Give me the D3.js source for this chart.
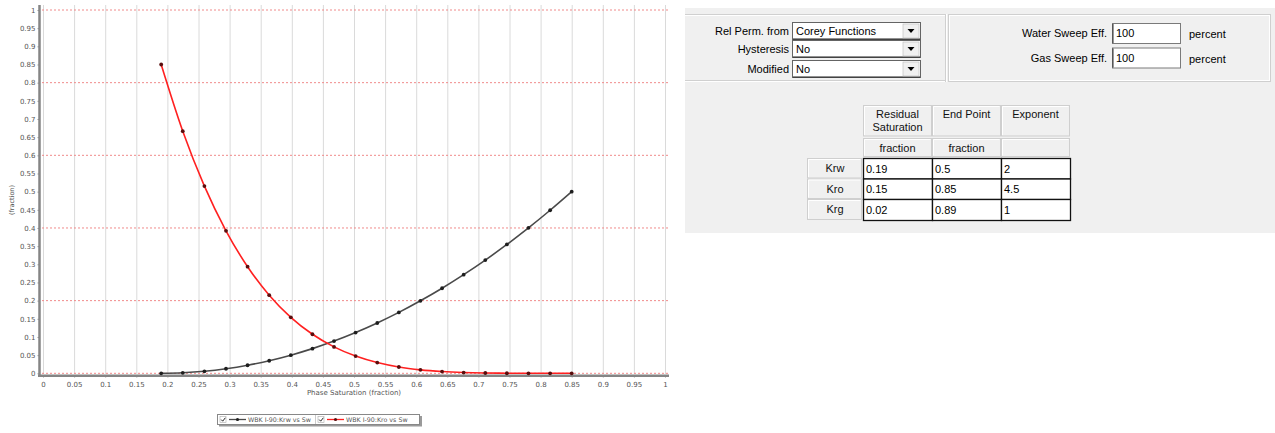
<!DOCTYPE html>
<html>
<head>
<meta charset="utf-8">
<script src="https://cdn.jsdelivr.net/npm/d3@7"></script>
<style>
  html, body { margin: 0; padding: 0; background: #fff; }
  svg { display: block; }
</style>
</head>
<body>
<svg id="chart" width="1275" height="433"></svg>
<script>
// ---- relative permeability curves (Corey) ----
const sw  = [0.19, 0.2247, 0.2595, 0.2942, 0.3289, 0.3637, 0.3984, 0.4332, 0.4679, 0.5026,
             0.5374, 0.5721, 0.6068, 0.6416, 0.6763, 0.7111, 0.7458, 0.7805, 0.8153, 0.85];
const krw = [0, 0.0014, 0.0055, 0.0125, 0.0222, 0.0346, 0.0499, 0.0679, 0.0886, 0.1122,
             0.1385, 0.1676, 0.1995, 0.2341, 0.2715, 0.3116, 0.3546, 0.4003, 0.4488, 0.5];
const kro = [0.85, 0.6664, 0.5153, 0.3923, 0.2934, 0.2151, 0.1541, 0.1075, 0.0727, 0.0473,
             0.0295, 0.0173, 0.0095, 0.0048, 0.0021, 0.0008, 0.0002, 0.0000, 0.0000, 0];
const seriesNames = ["WBK I-90:Krw vs Sw", "WBK I-90:Kro vs Sw"];
const xTicks = d3.range(0, 21).map(i => i / 20);
const yTicks = d3.range(0, 21).map(i => i / 20);
const yMajor = [0, 0.2, 0.4, 0.6, 0.8, 1];
const xTitle = "Phase Saturation (fraction)";
const yTitle = "(fraction)";

// ---- settings panel ----
const ddLabels = ["Rel Perm. from", "Hysteresis", "Modified"];
const ddValues = ["Corey Functions", "No", "No"];
const sweepLabels = ["Water Sweep Eff.", "Gas Sweep Eff."];
const sweepValues = ["100", "100"];
const sweepUnit = "percent";
const colHeads = [["Residual", "Saturation"], ["End Point"], ["Exponent"]];
const colUnits = ["fraction", "fraction", ""];
const rowNames = ["Krw", "Kro", "Krg"];
const residual = ["0.19", "0.15", "0.02"];
const endPoint = ["0.5", "0.85", "0.89"];
const exponent = ["2", "4.5", "1"];

const svg = d3.select("#chart");
const chartFont = "DejaVu Sans, Verdana, sans-serif";
const uiFont = "Liberation Sans, Arial, sans-serif";

// ================= chart =================
const x = d3.scaleLinear().domain([0, 1]).range([43, 665]);
const y = d3.scaleLinear().domain([0, 1]).range([373.3, 10]);
const fmt = d => String(+d.toFixed(2));

const g = svg.append("g");

// vertical grid
g.append("g").selectAll("line").data(xTicks).join("line")
  .attr("x1", d => x(d) + 0.5).attr("x2", d => x(d) + 0.5)
  .attr("y1", 5).attr("y2", 374)
  .attr("stroke", "#dadada").attr("stroke-width", 1);

// horizontal major grid (red dotted)
g.append("g").selectAll("line").data(yMajor).join("line")
  .attr("x1", 42).attr("x2", 669)
  .attr("y1", d => y(d)).attr("y2", d => y(d))
  .attr("stroke", "#f08a8a").attr("stroke-width", 1)
  .attr("stroke-dasharray", "2,2");

// axes
const yAxis = d3.axisLeft(y).tickValues(yTicks).tickSize(2).tickPadding(2).tickFormat(fmt);
const yG = g.append("g").attr("transform", "translate(39.5,0)").call(yAxis);
const xAxis = d3.axisBottom(x).tickValues(xTicks).tickSize(2).tickPadding(5).tickFormat(fmt);
const xG = g.append("g").attr("transform", "translate(0,375.5)").call(xAxis);
[yG, xG].forEach(a => {
  a.select(".domain").remove();
  a.selectAll(".tick line").attr("stroke", "#999");
  a.selectAll(".tick text").attr("fill", "#555").attr("font-size", 7).attr("font-family", chartFont);
});
g.append("line").attr("x1", 39.5).attr("x2", 39.5).attr("y1", 5).attr("y2", 377)
  .attr("stroke", "#858585").attr("stroke-width", 2.5);
g.append("line").attr("x1", 38).attr("x2", 669).attr("y1", 375.8).attr("y2", 375.8)
  .attr("stroke", "#858585").attr("stroke-width", 2.5);

// titles
g.append("text").attr("x", 354).attr("y", 395).attr("text-anchor", "middle")
  .attr("font-size", 7).attr("font-family", chartFont).attr("fill", "#555").text(xTitle);
g.append("text").attr("transform", "translate(14,200) rotate(-90)").attr("text-anchor", "middle")
  .attr("font-size", 6.5).attr("font-family", chartFont).attr("fill", "#555").text(yTitle);

// series
const series = [
  { name: seriesNames[0], vals: krw, line: "#4a4a4a", dot: "#1e1e1e" },
  { name: seriesNames[1], vals: kro, line: "#ff2020", dot: "#5a0d0d" }
];
const lineGen = d3.line().x(d => x(d[0])).y(d => y(d[1])).curve(d3.curveMonotoneX);
series.forEach(s => {
  const pts = sw.map((v, i) => [v, s.vals[i]]);
  g.append("path").datum(pts).attr("d", lineGen)
    .attr("fill", "none").attr("stroke", s.line).attr("stroke-width", 1.6);
  g.append("g").selectAll("circle").data(pts).join("circle")
    .attr("cx", d => x(d[0])).attr("cy", d => y(d[1])).attr("r", 1.9)
    .attr("fill", s.dot);
});

// legend
const lg = svg.append("g").attr("transform", "translate(217,414)");
lg.append("rect").attr("x", 2).attr("y", 2).attr("width", 203).attr("height", 10.5).attr("fill", "#9a9a9a");
lg.append("rect").attr("x", 0.5).attr("y", 0.5).attr("width", 202).attr("height", 10)
  .attr("fill", "#fff").attr("stroke", "#888");
const itemX = [3, 101];
series.forEach((s, i) => {
  const ix = itemX[i];
  lg.append("rect").attr("x", ix).attr("y", 2.5).attr("width", 6).attr("height", 6)
    .attr("fill", "#fff").attr("stroke", "#aaa").attr("stroke-width", 0.6);
  lg.append("path").attr("d", `M${ix + 1.2},5.6 l1.5,1.6 l2.6,-3.4`)
    .attr("fill", "none").attr("stroke", "#111").attr("stroke-width", 0.9);
  lg.append("line").attr("x1", ix + 9).attr("x2", ix + 26).attr("y1", 5.5).attr("y2", 5.5)
    .attr("stroke", s.line).attr("stroke-width", 1.3);
  lg.append("circle").attr("cx", ix + 17.5).attr("cy", 5.5).attr("r", 1.6).attr("fill", s.dot);
  lg.append("text").attr("x", ix + 28).attr("y", 8).attr("font-size", 6.3)
    .attr("font-family", chartFont).attr("fill", "#555").text(s.name);
  if (i === 0) {
    lg.append("line").attr("x1", 98.5).attr("x2", 98.5).attr("y1", 1).attr("y2", 10)
      .attr("stroke", "#ccc");
  }
});

// ================= settings panel =================
const p = svg.append("g").attr("font-family", uiFont).attr("font-size", 11);
p.append("rect").attr("x", 685).attr("y", 8).attr("width", 590).attr("height", 225).attr("fill", "#f0f0f0");

// etched group frames
function etchH(x1, x2, yy) {
  p.append("line").attr("x1", x1).attr("x2", x2).attr("y1", yy).attr("y2", yy).attr("stroke", "#d0d0d0");
  p.append("line").attr("x1", x1).attr("x2", x2).attr("y1", yy + 1).attr("y2", yy + 1).attr("stroke", "#fff");
}
function etchV(xx, y1, y2) {
  p.append("line").attr("x1", xx).attr("x2", xx).attr("y1", y1).attr("y2", y2).attr("stroke", "#d0d0d0");
  p.append("line").attr("x1", xx + 1).attr("x2", xx + 1).attr("y1", y1).attr("y2", y2).attr("stroke", "#fff");
}
etchH(685, 946, 14.5);
etchH(685, 946, 80.5);
etchV(945.5, 14, 82);
p.append("rect").attr("x", 948.5).attr("y", 14.5).attr("width", 322).attr("height", 67)
  .attr("fill", "none").attr("stroke", "#cfcfcf");
p.append("rect").attr("x", 949.5).attr("y", 15.5).attr("width", 320).attr("height", 65)
  .attr("fill", "none").attr("stroke", "#fff");

// drop-down rows
const ddTop = [22, 40, 60];
ddLabels.forEach((lab, i) => {
  const ty = ddTop[i];
  p.append("text").attr("x", 789).attr("y", ty + 13).attr("text-anchor", "end").attr("fill", "#000").text(lab);
  p.append("rect").attr("x", 792.5).attr("y", ty + 0.5).attr("width", 128).attr("height", 17)
    .attr("fill", "#fff").attr("stroke", "#646464");
  p.append("line").attr("x1", 793).attr("x2", 920).attr("y1", ty + 17).attr("y2", ty + 17).attr("stroke", "#222");
  p.append("rect").attr("x", 903).attr("y", ty + 2).attr("width", 16).attr("height", 14)
    .attr("fill", "#f0f0f0").attr("stroke", "#bbb").attr("stroke-width", 0.6);
  p.append("path").attr("d", `M${907.5},${ty + 7} h7 l-3.5,4 z`).attr("fill", "#000");
  p.append("text").attr("x", 796).attr("y", ty + 13).attr("fill", "#000").text(ddValues[i]);
});

// sweep efficiency inputs
const swTop = [23, 47.5];
sweepLabels.forEach((lab, i) => {
  const ty = swTop[i];
  p.append("text").attr("x", 1107).attr("y", ty + 14).attr("text-anchor", "end").attr("fill", "#000").text(lab);
  p.append("rect").attr("x", 1112.5).attr("y", ty + 0.5).attr("width", 68).attr("height", 20)
    .attr("fill", "#fff").attr("stroke", "#7a7a7a");
  p.append("line").attr("x1", 1113).attr("x2", 1113).attr("y1", ty + 1).attr("y2", ty + 20).attr("stroke", "#333");
  p.append("text").attr("x", 1116).attr("y", ty + 14).attr("fill", "#000").text(sweepValues[i]);
  p.append("text").attr("x", 1189).attr("y", ty + 15).attr("fill", "#000").text(sweepUnit);
});

// parameter table
const colX = [863, 932, 1001, 1070];
const rowHdrX = [807, 863];
const hdrY = [105, 136.5];
const unitY = [138, 157];
const rowY = [158, 178.5, 199, 220];
function button(x0, y0, w, h) {
  p.append("rect").attr("x", x0 + 0.5).attr("y", y0 + 0.5).attr("width", w - 1).attr("height", h - 1)
    .attr("fill", "#f0f0f0").attr("stroke", "#cfcfcf");
  p.append("path").attr("d", `M${x0 + 1.5},${y0 + h - 1.5} V${y0 + 1.5} H${x0 + w - 1.5}`)
    .attr("fill", "none").attr("stroke", "#fff");
}
colHeads.forEach((lines, c) => {
  const x0 = colX[c], w = colX[c + 1] - colX[c];
  button(x0, hdrY[0], w, hdrY[1] - hdrY[0]);
  button(x0, unitY[0], w, unitY[1] - unitY[0]);
  lines.forEach((t, k) => {
    p.append("text").attr("x", x0 + w / 2).attr("y", hdrY[0] + 13 + k * 13)
      .attr("text-anchor", "middle").attr("fill", "#111").text(t);
  });
  p.append("text").attr("x", x0 + w / 2).attr("y", unitY[0] + 14)
    .attr("text-anchor", "middle").attr("fill", "#111").text(colUnits[c]);
});
const cellVals = [residual, endPoint, exponent];
rowNames.forEach((rn, r) => {
  const y0 = rowY[r], h = rowY[r + 1] - rowY[r];
  button(rowHdrX[0], y0, rowHdrX[1] - rowHdrX[0] - 1, h);
  p.append("text").attr("x", (rowHdrX[0] + rowHdrX[1]) / 2).attr("y", y0 + 14)
    .attr("text-anchor", "middle").attr("fill", "#111").text(rn);
  cellVals.forEach((vals, c) => {
    const x0 = colX[c], w = colX[c + 1] - colX[c];
    p.append("rect").attr("x", x0 + 0.5).attr("y", y0 + 0.5).attr("width", w).attr("height", h)
      .attr("fill", "#fff").attr("stroke", "#111").attr("stroke-width", 1.3);
    p.append("text").attr("x", x0 + 3).attr("y", y0 + 14.5).attr("fill", "#000").text(vals[r]);
  });
});
</script>
</body>
</html>
